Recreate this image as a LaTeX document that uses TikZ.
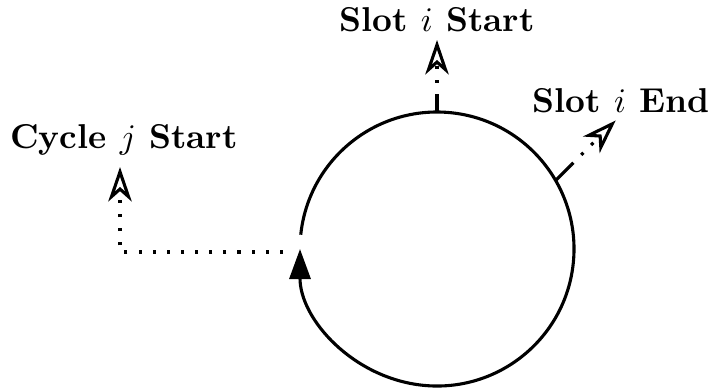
\documentclass[tikz,border=0pt]{standalone}
\usetikzlibrary{arrows.meta}
\begin{document}
\begin{tikzpicture}[x=0.29pt,y=0.29pt,line width=0.9pt,
  lbl/.style={font=\bfseries,anchor=base,inner sep=0pt},
  dotline/.style={dash pattern=on 0.9pt off 3.2pt},
  opentip/.style={-{Stealth[open,length=10pt,width=6.8pt,inset=3pt]}},
  filltip/.style={-{Triangle[length=8.7pt,width=6.1pt]}}]
  \useasboundingbox (0,0) rectangle (715,389);

  % cycle circle with its direction mark
  \coordinate (c) at (437,140);
  \draw[filltip] ([shift={(174:137)}]c) arc[start angle=174,end angle=-180,radius=137];

  % labels
  \node[lbl] (slotstart) at (437,358) {Slot $i$ Start};
  \node[lbl] (slotend) at (621,277) {Slot $i$ End};
  \node[lbl] (cycstart) at (124,241) {Cycle $j$ Start};

  % slot start marker
  \coordinate (ss0) at ([shift={(90:137)}]c);
  \coordinate (ss1) at ([shift={(0,15)}]ss0);
  \coordinate (sstip) at (437,349);
  \draw (ss0) -- (ss1);
  \draw[dotline,opentip] (ss1) -- (sstip);

  % slot end marker
  \coordinate (se0) at ([shift={(30:137)}]c);
  \coordinate (se1) at ([shift={(45:22)}]se0);
  \coordinate (setip) at ([shift={(45:63)}]se1);
  \draw (se0) -- (se1);
  \draw[dotline,opentip] (se1) -- (setip);

  % cycle start marker
  \coordinate (cs0) at (283,137);
  \coordinate (cs1) at (120,137);
  \coordinate (cstip) at (120,222);
  \draw[dotline,opentip] (cs0) -- (cs1) -- (cstip);
\end{tikzpicture}
\end{document}
